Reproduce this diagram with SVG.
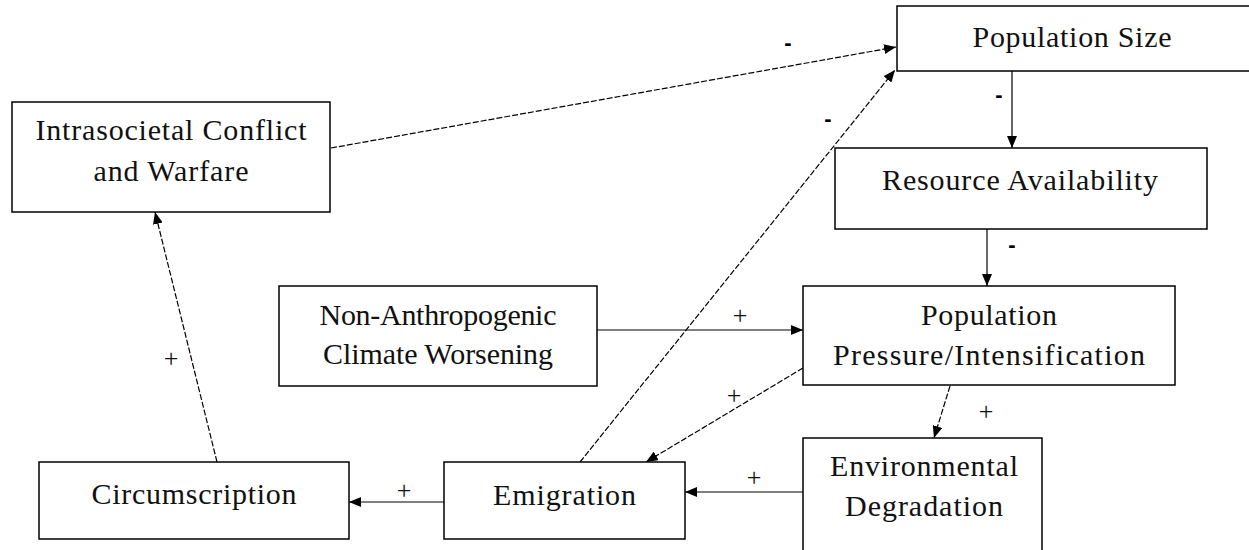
<svg xmlns="http://www.w3.org/2000/svg" width="1249" height="550" viewBox="0 0 1249 550">
<style>
.box{fill:#fff;stroke:#000;stroke-width:1.5}
.t{font-family:"Liberation Serif","Times New Roman",serif;font-size:30px;fill:#111;text-anchor:middle}
.c{stroke:#000;stroke-width:1.2;fill:none}
.cd{stroke:#000;stroke-width:1.2;fill:none;stroke-dasharray:6 2}
.p{font-family:"Liberation Serif","Times New Roman",serif;font-size:26px;fill:#111;text-anchor:middle}
.m{font-family:"Liberation Sans",Arial,sans-serif;font-size:22px;font-weight:bold;fill:#000;text-anchor:middle}
</style>
<defs>
<marker id="ah" viewBox="0 0 12 10" refX="12" refY="5" markerWidth="12" markerHeight="10" markerUnits="userSpaceOnUse" orient="auto">
<path d="M0,0 L12,5 L0,10 Z" fill="#000"/>
</marker>
</defs>
<rect width="1249" height="550" fill="#fff"/>
<g id="connectors">
<line class="cd" x1="331" y1="148" x2="896" y2="47" marker-end="url(#ah)"/>
<line class="cd" x1="580" y1="462" x2="895" y2="70" marker-end="url(#ah)"/>
<line class="c" x1="1012" y1="71" x2="1012" y2="148" marker-end="url(#ah)"/>
<line class="c" x1="987" y1="229" x2="987" y2="286" marker-end="url(#ah)"/>
<line class="c" x1="597" y1="330" x2="803" y2="330" marker-end="url(#ah)"/>
<line class="cd" x1="803" y1="368" x2="646" y2="462" marker-end="url(#ah)"/>
<line class="cd" x1="950" y1="386" x2="934" y2="438" marker-end="url(#ah)"/>
<line class="c" x1="803" y1="492" x2="685" y2="492" marker-end="url(#ah)"/>
<line class="c" x1="444" y1="502" x2="349" y2="502" marker-end="url(#ah)"/>
<line class="cd" x1="217" y1="462" x2="155" y2="212" marker-end="url(#ah)"/>
<text class="m" x="788" y="50">-</text>
<text class="m" x="828" y="126">-</text>
<text class="m" x="999" y="102">-</text>
<text class="m" x="1012" y="252">-</text>
<text class="p" x="740" y="324">+</text>
<text class="p" x="734" y="404">+</text>
<text class="p" x="986" y="420">+</text>
<text class="p" x="754" y="486">+</text>
<text class="p" x="404" y="499">+</text>
<text class="p" x="171" y="367">+</text>
</g>
<g id="population-size">
<rect class="box" x="897" y="6" width="370" height="65"/>
<text class="t" x="1072" y="47" textLength="199" lengthAdjust="spacing">Population Size</text>
</g>
<g id="intrasocietal-conflict">
<rect class="box" x="12" y="102" width="318" height="110"/>
<text class="t" x="171" y="140" textLength="271" lengthAdjust="spacing">Intrasocietal Conflict</text>
<text class="t" x="171" y="181" textLength="155" lengthAdjust="spacing">and Warfare</text>
</g>
<g id="resource-availability">
<rect class="box" x="835" y="148" width="372" height="81"/>
<text class="t" x="1020" y="190" textLength="276" lengthAdjust="spacing">Resource Availability</text>
</g>
<g id="population-pressure">
<rect class="box" x="803" y="286" width="372" height="99"/>
<text class="t" x="989" y="325" textLength="136" lengthAdjust="spacing">Population</text>
<text class="t" x="989" y="365" textLength="312" lengthAdjust="spacing">Pressure/Intensification</text>
</g>
<g id="climate-worsening">
<rect class="box" x="279" y="286" width="318" height="100"/>
<text class="t" x="438" y="325" textLength="237" lengthAdjust="spacing">Non-Anthropogenic</text>
<text class="t" x="438" y="364" textLength="230" lengthAdjust="spacing">Climate Worsening</text>
</g>
<g id="environmental-degradation">
<rect class="box" x="803" y="438" width="239" height="130"/>
<text class="t" x="924" y="476" textLength="188" lengthAdjust="spacing">Environmental</text>
<text class="t" x="924" y="516" textLength="158" lengthAdjust="spacing">Degradation</text>
</g>
<g id="emigration">
<rect class="box" x="444" y="462" width="241" height="77"/>
<text class="t" x="564.5" y="505" textLength="143" lengthAdjust="spacing">Emigration</text>
</g>
<g id="circumscription">
<rect class="box" x="39" y="462" width="310" height="77"/>
<text class="t" x="194" y="504" textLength="205" lengthAdjust="spacing">Circumscription</text>
</g>
</svg>
